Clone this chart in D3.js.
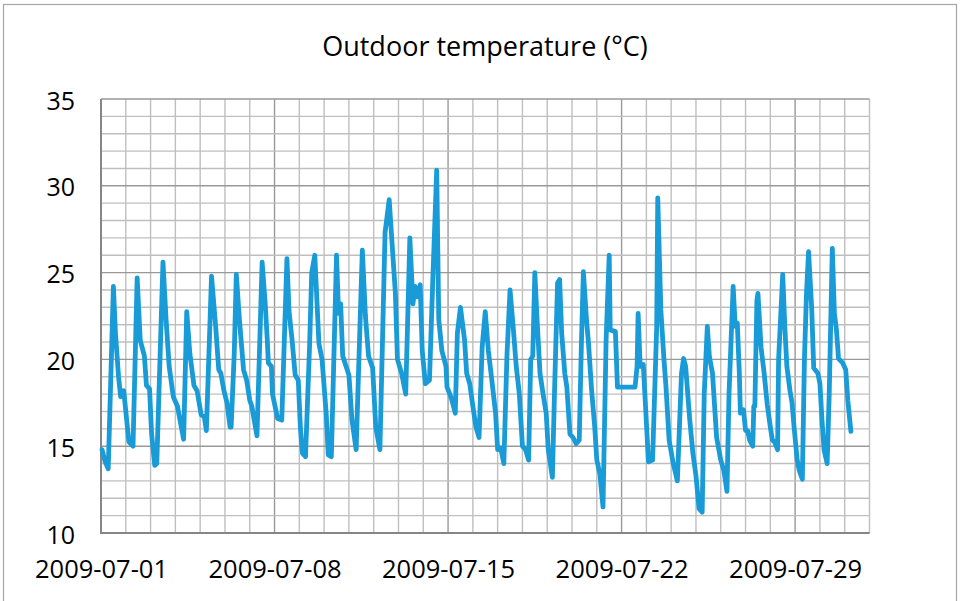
<!DOCTYPE html>
<html>
<head>
<meta charset="utf-8">
<script src="https://cdn.jsdelivr.net/npm/d3@7"></script>
<style>
  body { margin: 0; background: #fff; }
  svg { display: block; }
  text { font-family: "Open Sans", sans-serif; fill: #000; }
</style>
</head>
<body>
<div id="chart"></div>
<script>
// hours since 2009-07-01 00:00 and temperature
var hours = [1, 4, 7, 12, 14, 17, 19, 22, 27, 31, 35, 38, 42, 44, 47, 49, 52, 54, 60, 63, 66, 70, 74, 80,
  83, 86, 90, 93, 97, 100, 102, 107, 111, 114, 116, 119, 122, 125, 126, 129, 131, 134, 138, 141, 144,
  146, 151, 156, 159, 161, 162, 165, 166, 171, 175, 180, 182, 185, 188, 191, 193, 195, 198, 202, 204,
  207, 211, 214, 218, 220, 223, 228, 230, 232, 234, 240, 243, 247, 253, 256, 259, 263, 266, 270, 275,
  279, 282, 285, 287, 291, 295, 299, 302, 304, 306, 309, 311, 314, 318, 321, 325, 327, 330, 334, 335,
  339, 343, 345, 348, 352, 354, 357, 360, 363, 366, 369, 372, 375, 378, 382, 384, 387, 390, 393, 396,
  399, 402, 405, 408, 411, 414, 416, 418, 420, 422, 425, 428, 431, 433, 437, 439, 442, 444, 446, 449,
  451, 454, 457, 460, 463, 465, 467, 470, 472, 475, 478, 480, 483, 486, 489, 492, 493, 498, 500, 517,
  519, 520, 522, 525, 527, 530, 534, 538, 539, 542, 545, 547, 550, 554, 558, 562, 564, 566, 570, 573,
  576, 579, 582, 584, 587, 589, 592, 596, 600, 603, 606, 608, 612, 614, 616, 618, 619, 622, 624, 626,
  628, 631, 632, 633, 635, 636, 639, 642, 645, 648, 650, 652, 655, 656, 660, 662, 664, 667, 669, 671,
  674, 676, 679, 681, 683, 685, 688, 690, 694, 696, 698, 700, 703, 705, 708, 710, 712, 714, 718, 721,
  723, 726];
var temps = [14.8, 14.1, 13.7, 24.2, 21.5, 19.0, 17.85, 18.2, 15.25, 15.0, 24.7, 21.1, 20.2, 18.5, 18.3,
  15.7, 13.9, 14.0, 25.6, 22.3, 19.6, 17.85, 17.3, 15.4, 22.75, 20.35, 18.5, 18.2, 16.8, 16.7, 15.9, 24.8,
  21.9, 19.4, 19.2, 18.2, 17.5, 16.1, 16.1, 20.35, 24.9, 22.3, 19.4, 18.8, 17.65, 17.3, 15.6, 25.6, 23.2,
  21.1, 19.8, 19.6, 18.0, 16.6, 16.5, 25.8, 22.8, 21.1, 19.1, 18.8, 16.1, 14.6, 14.4, 20.9, 25.0, 26.0,
  20.9, 20.0, 16.9, 14.5, 14.4, 26.0, 22.65, 23.2, 20.2, 19.1, 16.5, 14.8, 26.3, 22.5, 20.2, 19.5, 16.1,
  14.8, 27.3, 29.2, 26.5, 23.8, 20.0, 19.2, 18.0, 27.0, 23.2, 24.2, 23.6, 24.3, 20.5, 18.6, 18.8, 24.2,
  30.9, 22.3, 20.5, 19.6, 18.4, 17.8, 16.9, 21.5, 23.0, 21.1, 19.2, 18.6, 17.3, 16.1, 15.5, 20.7, 22.75,
  20.5, 19.0, 16.9, 14.8, 14.9, 14.0, 20.2, 24.0, 21.9, 19.6, 18.0, 15.0, 14.8, 14.2, 20.0, 20.2, 25.0,
  22.5, 19.2, 18.0, 16.9, 14.8, 13.2, 18.0, 24.4, 24.6, 21.5, 19.2, 18.4, 15.7, 15.5, 15.15, 15.35, 20.7,
  25.05, 22.3, 20.9, 18.2, 16.1, 14.2, 13.4, 11.5, 21.1, 26.0, 21.7, 21.6, 18.4, 18.4, 19.6, 22.65, 19.6,
  19.7, 17.5, 14.1, 14.2, 21.9, 29.3, 22.85, 20.0, 18.4, 15.35, 14.0, 13.0, 19.2, 20.05, 19.6, 16.5,
  14.6, 13.3, 11.4, 11.2, 18.0, 21.9, 20.15, 19.2, 15.5, 14.2, 13.6, 12.4, 18.0, 24.2, 21.9, 22.1, 19.2,
  16.9, 17.1, 15.9, 15.9, 15.35, 15.0, 17.3, 17.3, 23.4, 23.8, 20.7, 19.2, 17.4, 16.1, 15.35, 15.25,
  14.8, 20.0, 24.9, 21.9, 19.6, 18.2, 17.5, 16.1, 14.2, 13.6, 13.1, 20.0, 23.8, 26.2, 23.0, 19.5, 19.2,
  18.6, 16.5, 14.8, 14.0, 18.0, 26.4, 22.65, 21.7, 20.05, 19.8, 19.4, 17.65, 15.85];
var xTickLabels = ["2009-07-01", "2009-07-08", "2009-07-15", "2009-07-22", "2009-07-29"];
var yTicks = [10, 15, 20, 25, 30, 35];
var title = "Outdoor temperature (\u00b0C)";

var width = 960, height = 601;
var plotLeft = 101, plotTop = 99, plotRight = 869.5, plotBottom = 533;

var parse = d3.timeParse("%Y-%m-%d");
var start = parse("2009-07-01");
var end = parse("2009-08-01");

var data = hours.map(function(h, i) {
  return { t: d3.timeHour.offset(start, h), v: temps[i] };
});

var x = d3.scaleTime().domain([start, end]).range([plotLeft, plotRight]);
var y = d3.scaleLinear().domain([10, 35]).range([plotBottom, plotTop]);

var svg = d3.select("#chart").append("svg")
    .attr("width", width)
    .attr("height", height);

// outer chart frame
svg.append("rect")
    .attr("x", 3.5).attr("y", 4.5)
    .attr("width", 953).attr("height", 640)
    .attr("fill", "none")
    .attr("stroke", "#a6a6a6")
    .attr("stroke-width", 1.2);

svg.append("text")
    .attr("x", 485)
    .attr("y", 56)
    .attr("text-anchor", "middle")
    .style("font-size", "27px")
    .text(title);

// minor grid: every day, every degree (darker every week / every 5 degrees)
var days = d3.timeDay.range(start, d3.timeDay.offset(end, 1));
var degrees = d3.range(10, 36);

var grid = svg.append("g").attr("class", "grid");
grid.selectAll(".vminor")
    .data(days)
  .enter().append("line")
    .attr("x1", function(d) { return x(d); })
    .attr("x2", function(d) { return x(d); })
    .attr("y1", plotTop).attr("y2", plotBottom)
    .attr("stroke", function(d) { return d3.timeDay.count(start, d) % 7 == 0 ? "#999" : "#bfbfbf"; })
    .attr("stroke-width", 1.4);

grid.selectAll(".hminor")
    .data(degrees)
  .enter().append("line")
    .attr("x1", plotLeft).attr("x2", plotRight)
    .attr("y1", function(d) { return y(d); })
    .attr("y2", function(d) { return y(d); })
    .attr("stroke", function(d) { return d % 5 == 0 ? "#999" : "#bfbfbf"; })
    .attr("stroke-width", 1.4);

// axis lines
svg.append("line")
    .attr("x1", plotLeft).attr("x2", plotLeft)
    .attr("y1", plotTop).attr("y2", plotBottom + 1)
    .attr("stroke", "#868686").attr("stroke-width", 2);
svg.append("line")
    .attr("x1", plotLeft).attr("x2", plotRight)
    .attr("y1", plotBottom).attr("y2", plotBottom)
    .attr("stroke", "#868686").attr("stroke-width", 2);

var yAxis = d3.axisLeft(y).tickValues(yTicks).tickSize(0).tickPadding(26);
svg.append("g")
    .attr("transform", "translate(" + plotLeft + ",2)")
    .call(yAxis)
    .call(function(g) { g.select(".domain").remove(); })
    .selectAll("text")
    .style("font-family", "'Open Sans', sans-serif")
    .style("font-size", "25px")
    .attr("fill", "#000");

var xAxis = d3.axisBottom(x)
    .tickValues(xTickLabels.map(parse))
    .tickFormat(d3.timeFormat("%Y-%m-%d"))
    .tickSize(0)
    .tickPadding(27);
svg.append("g")
    .attr("transform", "translate(0," + plotBottom + ")")
    .call(xAxis)
    .call(function(g) { g.select(".domain").remove(); })
    .selectAll("text")
    .style("font-family", "'Open Sans', sans-serif")
    .style("font-size", "25.5px")
    .attr("fill", "#000");

var line = d3.line()
    .x(function(d) { return x(d.t); })
    .y(function(d) { return y(d.v); });

svg.append("path")
    .datum(data)
    .attr("fill", "none")
    .attr("stroke", "#199bd8")
    .attr("stroke-width", 4.8)
    .attr("stroke-linejoin", "round")
    .attr("stroke-linecap", "round")
    .attr("d", line);
</script>
</body>
</html>
